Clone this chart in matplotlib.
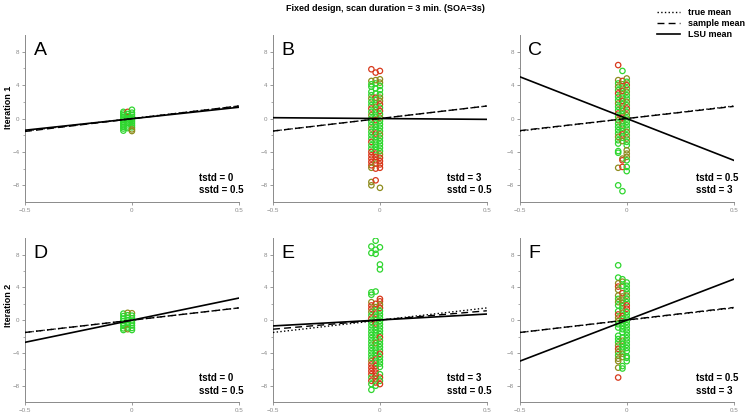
import matplotlib
matplotlib.use("Agg")
import matplotlib.pyplot as plt
from matplotlib.lines import Line2D

plt.rcParams["font.family"] = ["Liberation Sans", "DejaVu Sans"]

# --- data ------------------------------------------------------------------
COL_X = [-0.04, -0.02, 0.0]          # three scatter columns near x = 0
COLOURS = {"r": "#d8391c", "o": "#8e8c1e", "g": "#2fd62f"}

A_y = [[0.8, 0.6, 0.4, 0.2, 0.0, -0.2, -0.4, -0.6, -0.8, -1.0, -1.2, -1.45],
       [0.8, 0.55, 0.3, 0.05, -0.2, -0.45, -0.7, -0.95, -1.15],
       [1.05, 0.7, 0.45, 0.2, -0.05, -0.3, -0.55, -0.8, -1.05, -1.3, -1.5]]
A_c = ["gggggggggggg", "rgggggggg", "gggggggggoo"]

B_y = [[5.9, 4.5, 4.1, 3.8, 3.2, 2.8, 2.4, 2.0, 1.6, 1.2, 0.8, 0.4, 0.0, -0.4, -0.8,
        -1.2, -1.6, -2.0, -2.4, -2.8, -3.2, -3.6, -4.0, -4.4, -4.8, -5.2, -5.6, -5.9, -7.6, -8.0],
       [5.5, 4.6, 4.2, 3.6, 3.0, 2.5, 2.2, 1.8, 1.4, 1.0, 0.6, 0.2, -0.2, -0.6, -1.0,
        -1.4, -1.8, -2.2, -2.6, -3.0, -3.4, -3.8, -4.2, -4.6, -5.0, -5.4, -6.0, -7.4],
       [5.7, 4.7, 4.3, 3.9, 3.4, 2.9, 2.5, 2.1, 1.7, 1.3, 0.9, 0.5, 0.1, -0.3, -0.7,
        -1.1, -1.5, -1.9, -2.3, -2.7, -3.1, -3.5, -3.9, -4.3, -4.7, -5.1, -5.5, -5.9, -8.3]]
B_c = ["roggggoggrgogggogggrggrrrrrooo",
       "rogggrggogggrgggrgggggrrrorro",
       "roogggoorgrgoggggogggggorrrro"]

C_y = [[6.4, 4.6, 4.2, 3.8, 3.4, 3.0, 2.6, 2.2, 1.8, 1.4, 1.0, 0.6, 0.2, -0.2, -0.6,
        -1.0, -1.4, -1.8, -2.2, -2.6, -3.0, -3.9, -4.1, -5.9, -8.0],
       [5.7, 4.5, 4.1, 3.7, 3.3, 2.9, 2.5, 2.1, 1.7, 1.3, 0.9, 0.5, 0.1, -0.3, -0.7,
        -1.1, -1.5, -1.9, -2.3, -2.7, -4.8, -5.0, -5.8, -8.7],
       [4.8, 4.4, 4.0, 3.6, 3.2, 2.8, 2.4, 2.0, 1.6, 1.2, 0.8, 0.4, 0.0, -0.4, -0.8,
        -1.2, -1.6, -2.0, -2.4, -2.8, -3.2, -3.8, -4.2, -4.6, -5.0, -5.8, -6.3]]
C_c = ["rogogrggoggrgoggggoggggog",
       "grogrogrgoggrgoggrgoorrg",
       "ogrgoggogrgoggggogoggooogggo"[:27]]

D_y = [[0.8, 0.5, 0.2, -0.1, -0.4, -0.7, -1.0, -1.2],
       [0.9, 0.6, 0.3, 0.0, -0.3, -0.6, -0.9, -1.1],
       [0.85, 0.55, 0.25, -0.05, -0.35, -0.65, -0.95, -1.2]]
D_c = ["gggggggg", "oggggggo", "oggggggg"]

E_y = [[9.0, 8.2, 3.4, 3.1, 2.2, 1.8, 1.4, 1.0, 0.6, 0.2, -0.2, -0.6, -1.0, -1.4, -1.8,
        -2.2, -2.6, -3.0, -3.4, -3.8, -4.2, -4.6, -5.0, -5.4, -5.8, -6.2, -6.6, -7.0, -7.4, -7.8, -8.5],
       [9.7, 8.6, 8.1, 3.5, 2.0, 1.6, 1.2, 0.8, 0.4, 0.0, -0.4, -0.8, -1.2, -1.6, -2.0,
        -2.4, -2.8, -3.2, -3.6, -4.0, -4.4, -4.8, -5.2, -5.6, -6.0, -6.4, -6.8, -7.2, -7.6, -8.0],
       [8.9, 6.8, 6.2, 2.6, 2.3, 1.9, 1.5, 1.1, 0.7, 0.3, -0.1, -0.5, -0.9, -1.3, -1.7,
        -2.1, -2.5, -2.9, -3.3, -3.7, -4.1, -4.5, -4.9, -5.3, -5.7, -6.6, -7.0, -7.4, -7.8]]
E_c = ["ggggorrogrggggggggggggorrrrgrggg"[:31],
       "ggggrogrggrgggggoggggrgrrrrorg",
       "gggrrorggggggggrggggrgggggrgrg"[:29]]

F_y = [[6.7, 5.2, 4.5, 4.1, 3.7, 3.0, 2.6, 2.2, 1.8, 1.1, 0.7, 0.3, -0.1, -0.5, -0.9,
        -1.9, -2.3, -2.7, -3.1, -3.5, -3.9, -4.3, -4.7, -5.0, -5.8, -7.0],
       [5.0, 4.7, 4.2, 3.3, 2.9, 2.5, 2.1, 1.7, 1.3, 0.9, 0.5, 0.1, -0.3, -0.7, -1.1,
        -1.5, -2.1, -2.5, -2.9, -3.3, -3.7, -4.1, -4.5, -5.6, -5.9],
       [4.6, 4.2, 3.8, 3.4, 3.0, 2.6, 2.2, 1.8, 1.4, 1.0, 0.6, 0.2, -0.2, -0.6, -1.0,
        -1.4, -1.8, -2.2, -2.6, -3.0, -3.4, -3.8, -4.4, -4.6, -5.0]]
F_c = ["ggoroogoggroogggggorogooorg",
       "gogroooggorggggggogggoogg",
       "ggggoggrrgggggggggggggggg"]

# line end values at x = -0.5 and x = +0.5
TRUE_ENDS = [(-1.5, 1.5)] * 6
SAMPLE_ENDS = [(-1.55, 1.5), (-1.5, 1.5), (-1.45, 1.45), (-1.5, 1.5), (-1.1, 1.15), (-1.5, 1.55)]
LSU_ENDS = [(-1.4, 1.35), (0.1, -0.1), (5.0, -5.0), (-2.7, 2.7), (-0.7, 0.75), (-5.0, 5.0)]

LETTERS = ["A", "B", "C", "D", "E", "F"]
TSTD = ["0", "3", "0.5", "0", "3", "0.5"]
SSTD = ["0.5", "0.5", "3", "0.5", "0.5", "3"]
PANEL_Y = [A_y, B_y, C_y, D_y, E_y, F_y]
PANEL_C = [A_c, B_c, C_c, D_c, E_c, F_c]

# --- figure ----------------------------------------------------------------
fig = plt.figure(figsize=(7.49, 4.18), dpi=100)
lefts = [0.0334, 0.3645, 0.694]
rows = [(0.5167, 0.3995), (0.038, 0.392)]  # (bottom, height) per row, figure fractions
GREY = "#8a8a8a"

for i in range(6):
    bottom, height = rows[i // 3]
    ax = fig.add_axes([lefts[i % 3], bottom, 0.2855, height])
    for col, (ys, cs) in enumerate(zip(PANEL_Y[i], PANEL_C[i])):
        for y, c in zip(ys, cs):
            ax.scatter(COL_X[col], y, s=15, facecolors="none",
                       edgecolors=COLOURS[c], linewidths=0.9, zorder=2)
    xs = [-0.5, 0.5]
    ax.plot(xs, TRUE_ENDS[i], color="black", ls=":", lw=1.0, zorder=3)
    ax.plot(xs, SAMPLE_ENDS[i], color="black", ls=(0, (5, 3)), lw=1.0, zorder=3)
    ax.plot(xs, LSU_ENDS[i], color="black", ls="-", lw=1.2, zorder=4)

    ax.set_xlim(-0.5, 0.5)
    ax.set_ylim(-10, 10)
    ax.set_xticks([-0.5, 0, 0.5])
    ax.set_xticklabels(["\u22120.5", "0", "0.5"])
    ax.set_yticks([-8, -4, 0, 4, 8])
    ax.set_yticklabels(["\u22128", "\u22124", "0", "4", "8"])
    ax.set_yticks([-6, -2, 2, 6], minor=True)
    ax.tick_params(labelsize=4.5, colors=GREY, length=2, width=0.6, pad=2)
    ax.tick_params(which="minor", length=1.5, width=0.5, colors=GREY)
    for s in ("top", "right"):
        ax.spines[s].set_visible(False)
    for s in ("left", "bottom"):
        ax.spines[s].set_color(GREY)
        ax.spines[s].set_linewidth(0.7)
    ax.patch.set_alpha(0)

    ax.text(0.04, 0.96, LETTERS[i], transform=ax.transAxes, fontsize=14,
            ha="left", va="top")
    ax.text(1.02, 0.04, f"tstd = {TSTD[i]}\nsstd = {SSTD[i]}", transform=ax.transAxes,
            ha="right", va="bottom", multialignment="left", fontsize=7,
            fontweight="bold", linespacing=1.3)

fig.text(0.515, 0.98, "Fixed design, scan duration = 3 min. (SOA=3s)", ha="center",
         va="center", fontsize=6.5, fontweight="bold")
fig.text(0.011, 0.744, "Iteration 1", rotation=90, ha="center", va="center",
         fontsize=6.5, fontweight="bold")
fig.text(0.011, 0.27, "Iteration 2", rotation=90, ha="center", va="center",
         fontsize=6.5, fontweight="bold")

handles = [Line2D([], [], color="black", ls=":", lw=1.0),
           Line2D([], [], color="black", ls=(0, (5, 3)), lw=1.0),
           Line2D([], [], color="black", ls="-", lw=1.2)]
leg = fig.legend(handles, ["true mean", "sample mean", "LSU mean"], loc="upper right",
                 bbox_to_anchor=(1.005, 1.0), frameon=False, fontsize=6.5,
                 handlelength=2.6, handletextpad=0.8, labelspacing=0.2)
for t in leg.get_texts():
    t.set_fontweight("bold")

fig.savefig("out.png", dpi=100)
